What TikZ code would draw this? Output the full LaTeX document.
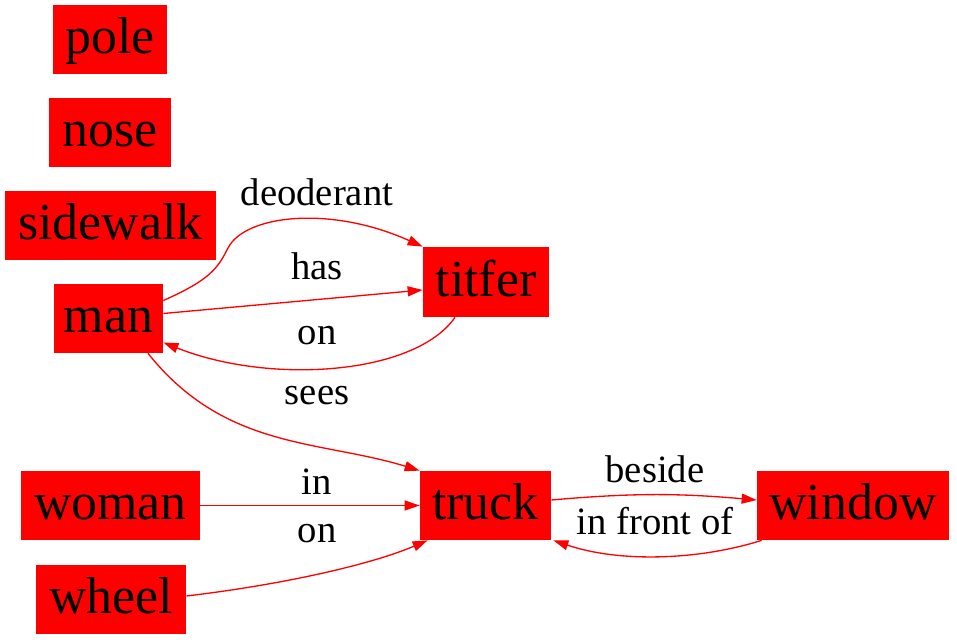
\documentclass[tikz,border=0pt]{standalone}
\usepackage{fontspec}
\setmainfont{Liberation Serif}
\usetikzlibrary{arrows.meta}

\begin{document}
\begin{tikzpicture}[obj/.style={fill=red,inner sep=0pt,minimum height=1.38cm,text height=22pt,text depth=6pt,font=\fontsize{29.5}{32}\selectfont},
rel/.style={draw=red,line width=.75pt,-{Triangle[length=.3cm,width=.2cm]}},
lbl/.style={anchor=base,inner sep=0pt,font=\fontsize{22}{24}\selectfont}]
\useasboundingbox (0,0) rectangle (19.14,12.8);
\node[obj,minimum width=2.28cm] (pole) at (2.2,12.01) {pole};
\node[obj,minimum width=2.44cm] (nose) at (2.2,10.15) {nose};
\node[obj,minimum width=4.22cm] (sidewalk) at (2.21,8.29) {sidewalk};
\node[obj,minimum width=2.18cm] (man) at (2.17,6.43) {man};
\node[obj,minimum width=2.52cm,minimum height=1.4cm] (titfer) at (9.72,7.16) {titfer};
\node[obj,minimum width=3.58cm] (woman) at (2.21,2.69) {woman};
\node[obj,minimum width=2.62cm] (truck) at (9.71,2.69) {truck};
\node[obj,minimum width=3.84cm] (window) at (17.06,2.69) {window};
\node[obj,minimum width=3cm] (wheel) at (2.22,0.81) {wheel};
% man -- titfer
\draw[rel] ([yshift=.36cm]man.east) .. controls (4.2,7.2) and (4.36,7.44) .. (4.56,7.84) .. controls (4.9,8.5) and (6.6,8.7) .. (titfer.north west);
\node[lbl] (deo) at (6.34,8.68) {deoderant};
\draw[rel] ([yshift=.1cm]man.east) -- ([yshift=-.16cm]titfer.west);
\node[lbl] (has) at (6.34,7.2) {has};
\draw[rel] ([xshift=-.62cm]titfer.south) .. controls (8.3,5.3) and (5.4,5.1) .. ([yshift=-.48cm]man.east);
\node[lbl] (onA) at (6.34,5.9) {on};
% to truck
\draw[rel] ([xshift=.79cm]man.south) .. controls (4.5,3.8) and (6.4,4.0) .. (truck.north west);
\node[lbl] (sees) at (6.34,4.7) {sees};
\draw[rel] (woman.east) -- (truck.west);
\node[lbl] (in) at (6.34,2.9) {in};
\draw[rel] ([yshift=.07cm]wheel.east) .. controls (5.6,1.1) and (7.4,1.5) .. ([xshift=.16cm]truck.south west);
\node[lbl] (onB) at (6.34,1.94) {on};
% truck -- window
\draw[rel] ([yshift=.11cm]truck.east) to[bend left=5] ([yshift=.11cm]window.west);
\node[lbl] (beside) at (13.1,3.14) {beside};
\draw[rel] ([xshift=.1cm]window.south west) .. controls (14.0,1.6) and (12.4,1.54) .. ([xshift=.04cm]truck.south east);
\node[lbl] (front) at (13.1,2.1) {in front of};
\end{tikzpicture}
\end{document}
